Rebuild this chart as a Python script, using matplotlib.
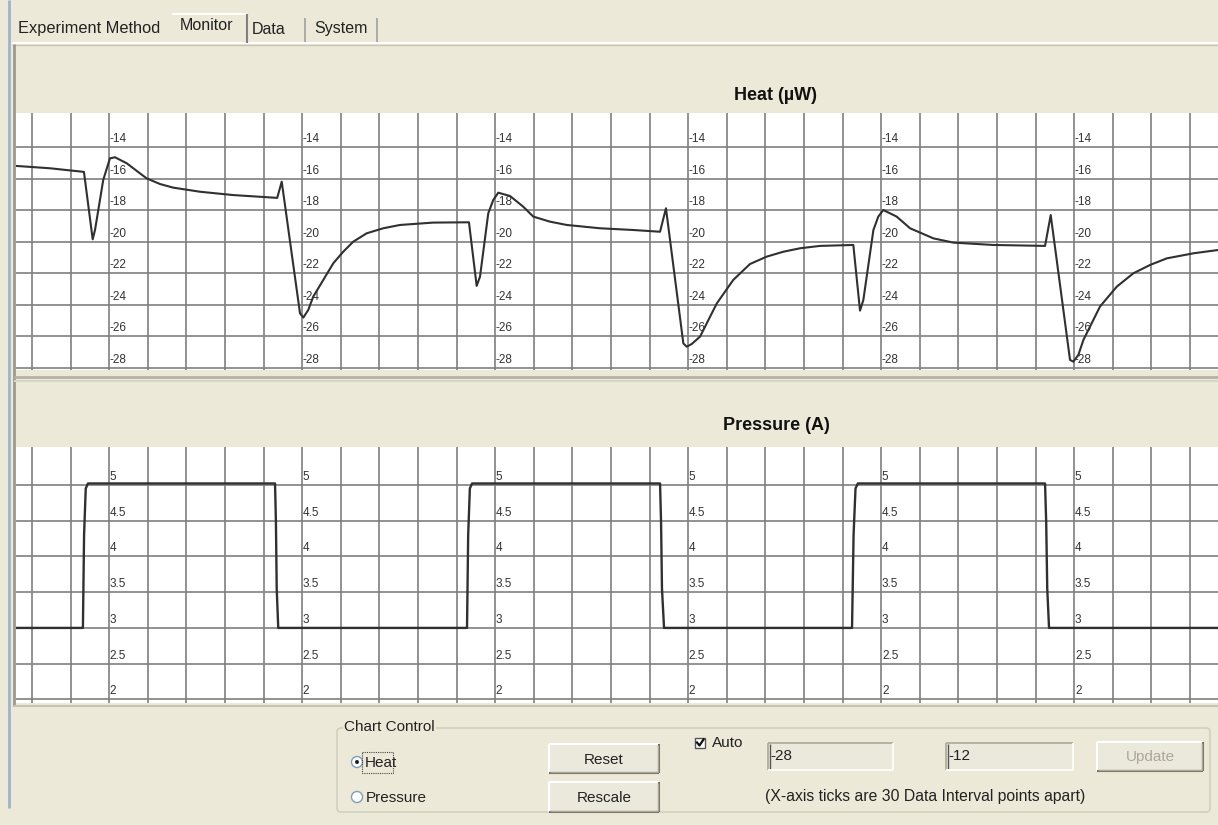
import matplotlib
matplotlib.use('Agg')
import matplotlib.pyplot as plt
from matplotlib.patches import Rectangle, Circle, FancyBboxPatch

plt.rcParams['font.family'] = ['Liberation Sans', 'DejaVu Sans']

# Heat trace (x in data interval points, grid every 30)
heat_x = [17.6, 44.0, 70.4, 77.2, 79.0, 85.4, 90.6, 94.5, 103.6, 113.9,
          119.1, 129.5, 139.8, 160.6, 186.2, 220.6, 224.1, 238.3, 240.9, 244.7,
          248.6, 256.4, 264.2, 271.9, 279.7, 290.1, 303.0, 316.0, 341.7, 369.6,
          375.6, 378.2, 384.6, 388.5, 392.4, 401.5, 411.8, 419.6, 432.6, 445.6,
          471.4, 497.3, 518.1, 522.7, 536.2, 538.8, 542.7, 549.2, 562.2, 575.0,
          588.0, 601.0, 613.9, 626.9, 642.4, 668.3, 673.5, 676.1, 683.9, 687.7,
          691.6, 702.0, 712.4, 730.5, 746.0, 777.1, 817.3, 821.7, 836.7, 839.3,
          843.2, 847.1, 860.0, 873.0, 885.9, 898.9, 911.9, 932.6, 951.7]
heat_y = [-15.17, -15.32, -15.55, -19.83, -19.24, -16.06, -14.69, -14.62, -15.0, -15.64,
          -15.96, -16.32, -16.55, -16.81, -17.02, -17.2, -16.17, -24.53, -24.8, -24.32,
          -23.47, -22.41, -21.35, -20.62, -19.98, -19.45, -19.13, -18.92, -18.77, -18.75,
          -22.79, -22.2, -18.18, -17.33, -16.87, -17.08, -17.76, -18.39, -18.71, -18.92,
          -19.13, -19.24, -19.35, -17.86, -26.44, -26.65, -26.48, -26.01, -23.9, -22.41,
          -21.4, -20.93, -20.62, -20.4, -20.25, -20.19, -24.36, -23.68, -19.24, -18.39,
          -17.97, -18.39, -19.13, -19.77, -20.04, -20.19, -20.25, -18.29, -27.49, -27.6,
          -27.17, -26.22, -24.1, -22.84, -21.99, -21.46, -21.04, -20.72, -20.51]

# Pressure trace
pressure_x = [17.6, 69.6, 70.5, 71.8, 73.5, 218.9, 219.6, 220.2, 221.4,
              368.1, 369.0, 370.3, 372.0, 518.1, 518.9, 519.6, 521.2,
              667.3, 668.5, 670.0, 671.8, 817.3, 818.2, 819.0, 820.4, 951.7]
pressure_y = [3.0, 3.0, 4.3, 4.95, 5.02, 5.02, 4.47, 3.55, 3.0,
              3.0, 4.3, 4.95, 5.02, 5.02, 4.47, 3.55, 3.0,
              3.0, 4.3, 4.95, 5.02, 5.02, 4.47, 3.55, 3.0, 3.0]

heat_ticks = [-14, -16, -18, -20, -22, -24, -26, -28]
pressure_ticks = [5, 4.5, 4, 3.5, 3, 2.5, 2]
label_x = [90, 240, 390, 540, 690, 840]
x_grid = list(range(30, 960, 30))

W, H = 1218, 825
BG = '#ECE9D8'
GRID = '#7f7f7f'
fig = plt.figure(figsize=(W / 100, H / 100), dpi=100, facecolor=BG)

# pixel-space layer for the window chrome
ui = fig.add_axes([0, 0, 1, 1], zorder=0)
ui.set_xlim(0, W)
ui.set_ylim(H, 0)
ui.axis('off')


def px_axes(x0, y0, x1, y1):
    return fig.add_axes([x0 / W, 1 - y1 / H, (x1 - x0) / W, (y1 - y0) / H], zorder=2)


def hline(x0, x1, y, c, lw=1):
    ui.plot([x0, x1], [y, y], color=c, lw=lw, solid_capstyle='butt')


def vline(x, y0, y1, c, lw=1):
    ui.plot([x, x], [y0, y1], color=c, lw=lw, solid_capstyle='butt')


# window border and tabs
vline(9, 0, 808, '#9fb3c9', 2)
hline(12, W, 43, '#ffffff', 1.5)
hline(12, W, 44.5, '#c9c5b4', 1)
hline(172, 247, 14, '#ffffff', 1.5)
vline(247, 14, 43, '#808080', 1.5)
vline(305, 18, 42, '#a0a0a0', 1.2)
vline(377, 18, 42, '#a0a0a0', 1.2)
ui.text(18, 28, 'Experiment Method', fontsize=11.8, va='center', color='#222')
ui.text(180, 26, 'Monitor', fontsize=11.5, va='center', color='#222')
ui.text(252, 29, 'Data', fontsize=11.5, va='center', color='#222')
ui.text(314, 29, 'System', fontsize=11.5, va='center', color='#222')

# panel frames
vline(14, 44, 706, '#9c9a8c', 2)
hline(14, W, 377, '#b5b2a3', 2)
hline(14, W, 381, '#d8d4c4', 1.5)
hline(14, W, 706, '#c9c5b4', 1.5)
ui.text(776, 95, 'Heat (\u00b5W)', fontsize=13, fontweight='bold', ha='center',
        va='center', color='#111')
ui.text(776, 426, 'Pressure (A)', fontsize=13, fontweight='bold', ha='center',
        va='center', color='#111')

# Heat chart
ax1 = px_axes(16, 113, W, 370)
ax1.plot(heat_x, heat_y, color='#303030', lw=1.5, solid_joinstyle='round')
ax1.set_xlim(17.6, 951.7)
ax1.set_ylim(-28.13, -11.81)
ax1.set_yticks(heat_ticks)
for xl in label_x:
    for v in heat_ticks:
        ax1.annotate(f'{v:g}', (xl, v), xytext=(0.5, 1.5), textcoords='offset points',
                     ha='left', va='bottom', fontsize=8.5, color='#333')

# Pressure chart
ax2 = px_axes(16, 447, W, 703)
ax2.plot(pressure_x, pressure_y, color='#303030', lw=1.7)
ax2.set_xlim(17.6, 951.7)
ax2.set_ylim(1.95, 5.53)
ax2.set_yticks(pressure_ticks)
for xl in label_x:
    for v in pressure_ticks:
        ax2.annotate(f'{v:g}', (xl, v), xytext=(0.5, 1.5), textcoords='offset points',
                     ha='left', va='bottom', fontsize=8.5, color='#333')

for ax in (ax1, ax2):
    ax.set_facecolor('white')
    ax.set_xticks(x_grid)
    ax.grid(True, color=GRID, lw=1.2)
    ax.set_axisbelow(True)
    ax.tick_params(length=0, labelbottom=False, labelleft=False)
    for s in ax.spines.values():
        s.set_visible(False)

# Chart Control group box
ui.add_patch(FancyBboxPatch((337, 728), 873, 84, boxstyle='round,pad=0,rounding_size=4',
                            fill=False, ec='#d0d0bf', lw=1.2))
ui.text(344, 727, 'Chart Control', fontsize=11, va='center', color='#222',
        bbox=dict(fc=BG, ec='none', pad=1))

# radio buttons
for cy, sel in ((762, True), (797, False)):
    ui.add_patch(Circle((357, cy), 5.5, fc='white', ec='#7f9db9', lw=1))
    if sel:
        ui.add_patch(Circle((357, cy), 2, fc='#222', ec='none'))
ui.text(365, 763, 'Heat', fontsize=11, va='center', color='#222')
ui.add_patch(Rectangle((362, 752), 31, 21, fill=False, ec='#444', lw=0.8, ls=(0, (1, 1))))
ui.text(366, 798, 'Pressure', fontsize=11, va='center', color='#222')


def button(x0, y0, x1, y1, label, c='#222'):
    ui.add_patch(Rectangle((x0, y0), x1 - x0, y1 - y0, fc='#ebe9dc', ec='none'))
    hline(x0, x1, y0, '#ffffff', 1.5)
    vline(x0, y0, y1, '#ffffff', 1.5)
    hline(x0, x1, y1, '#716f64', 1.5)
    vline(x1, y0, y1, '#716f64', 1.5)
    hline(x0 + 1, x1 - 1, y1 - 1.5, '#aca899', 1)
    vline(x1 - 1.5, y0 + 1, y1 - 1, '#aca899', 1)
    ui.text((x0 + x1) / 2, (y0 + y1) / 2 + 1, label, fontsize=11, ha='center',
            va='center', color=c)


button(549, 744, 659, 773, 'Reset')
button(549, 782, 659, 812, 'Rescale')
button(1097, 742, 1203, 771, 'Update', c='#aca899')

# Auto checkbox
ui.add_patch(Rectangle((695, 738), 10, 10, fc='white', ec='#555', lw=1))
ui.plot([697, 699.5, 703.5], [742.5, 745.5, 739.5], color='#111', lw=1.6)
ui.text(712, 743, 'Auto', fontsize=11, va='center', color='#222')


def textbox(x0, y0, x1, y1, label):
    ui.add_patch(Rectangle((x0, y0), x1 - x0, y1 - y0, fc='#ebe9dc', ec='none'))
    hline(x0, x1, y0, '#aca899', 1.2)
    vline(x0, y0, y1, '#aca899', 1.2)
    vline(x0 + 1.5, y0 + 1, y1 - 1, '#555', 1)
    hline(x0, x1, y1, '#ffffff', 1.2)
    vline(x1, y0, y1, '#ffffff', 1.2)
    ui.text(x0 + 2, (y0 + y1) / 2, label, fontsize=11, va='center', color='#222')


textbox(768, 743, 893, 770, '-28')
textbox(946, 743, 1073, 770, '-12')
ui.text(925, 797, '(X-axis ticks are 30 Data Interval points apart)', fontsize=11.3,
        ha='center', va='center', color='#222')

fig.savefig('out.png', dpi=100, facecolor=BG)
